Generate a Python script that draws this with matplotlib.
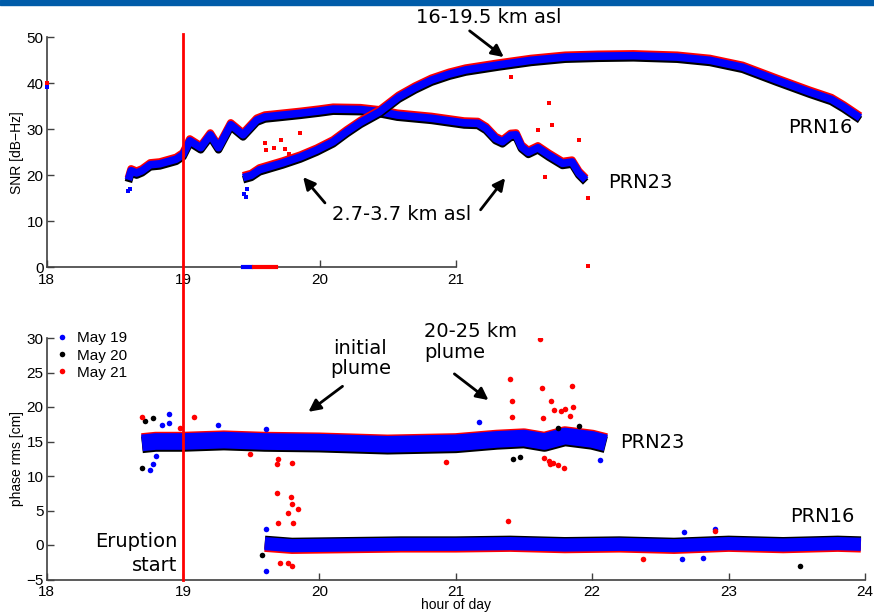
import numpy as np
import matplotlib
matplotlib.use("Agg")
import matplotlib.pyplot as plt
from matplotlib import patheffects as pe
from matplotlib.patches import Rectangle

# ---- SNR (upper panel), band centre ----
snr23_h = [18.60, 18.62, 18.66, 18.70, 18.76, 18.83, 18.89, 18.95, 19.00, 19.05,
           19.13, 19.20, 19.26, 19.35, 19.44, 19.54, 19.60, 19.70, 19.86, 20.00,
           20.10, 20.30, 20.45, 20.57, 20.82, 21.06, 21.16, 21.22, 21.29, 21.34,
           21.40, 21.44, 21.48, 21.53, 21.60, 21.68, 21.78, 21.85, 21.90, 21.95]
snr23 = [19.0, 21.0, 20.5, 21.0, 22.3, 22.5, 23.0, 23.5, 24.5, 27.5,
         26.0, 28.8, 26.0, 31.0, 28.8, 32.0, 32.7, 33.0, 33.5, 34.0,
         34.4, 34.3, 33.8, 33.1, 32.4, 31.4, 31.3, 30.2, 28.0, 27.3,
         28.7, 28.8, 26.2, 25.0, 26.0, 24.4, 22.6, 22.9, 20.5, 19.0]

snr16_h = [19.44, 19.50, 19.56, 19.65, 19.73, 19.86, 19.98, 20.10, 20.20, 20.30,
           20.44, 20.58, 20.70, 20.82, 20.95, 21.07, 21.31, 21.55, 21.80, 22.04,
           22.30, 22.62, 22.86, 23.10, 23.35, 23.59, 23.75, 23.84, 23.91, 23.96]
snr16 = [19.5, 20.0, 21.2, 22.0, 22.7, 24.0, 25.5, 27.3, 29.5, 31.5,
         33.8, 37.0, 39.0, 40.7, 42.0, 42.9, 44.0, 45.0, 45.7, 45.9,
         46.0, 45.7, 45.0, 43.5, 40.7, 38.1, 36.5, 34.9, 33.5, 32.5]

# scattered SNR samples off the band
snr_red_h = [18.00, 19.60, 19.61, 19.67, 19.72, 19.75, 19.78, 19.86, 21.40, 21.60,
             21.65, 21.68, 21.70, 21.90, 21.97, 21.97]
snr_red = [40.0, 27.0, 25.6, 26.0, 27.7, 25.8, 24.7, 29.2, 41.4, 29.9,
           19.7, 35.7, 31.0, 27.7, 15.1, 0.2]
snr_blue_h = [18.00, 18.60, 18.61, 19.45, 19.46, 19.47]
snr_blue = [39.3, 16.5, 17.0, 16.0, 15.3, 17.0]
snr_zero_blue = [19.44, 19.50]
snr_zero_red = [19.52, 19.68]

# ---- phase rms (lower panel) ----
ph23_h = [18.70, 18.80, 19.00, 19.30, 19.60, 20.00, 20.50, 21.00, 21.30, 21.50,
          21.65, 21.80, 22.00, 22.10]
ph23 = [14.8, 15.0, 15.0, 15.2, 15.0, 14.9, 14.6, 14.8, 15.3, 15.5,
        15.0, 15.8, 15.3, 14.8]
ph16_h = [19.60, 19.80, 20.20, 20.60, 21.00, 21.40, 21.80, 22.20, 22.60, 23.00,
          23.40, 23.80, 23.97]
ph16 = [0.2, -0.1, 0.0, 0.1, 0.1, 0.2, 0.0, 0.1, -0.1, 0.2, 0.0, 0.2, 0.1]

ph_red_h = [21.66, 21.62, 21.40, 21.41, 21.41, 21.63, 21.85, 21.70, 21.72, 21.86,
            21.77, 21.80, 21.84, 21.64, 21.65, 21.68, 21.71, 21.75, 21.69, 21.79,
            20.93, 19.69, 19.70, 19.80, 19.49, 18.70, 19.08, 18.98,
            19.69, 19.79, 19.80, 19.77, 19.81, 19.70, 19.84, 19.71, 19.80, 19.77,
            22.37, 21.38, 22.90]
ph_red = [30.6, 29.8, 24.0, 20.9, 18.6, 22.8, 23.1, 20.9, 19.5, 20.0,
          19.4, 19.7, 18.7, 18.4, 12.6, 12.2, 11.9, 11.6, 11.7, 11.2,
          12.1, 11.8, 12.5, 11.9, 13.2, 18.5, 18.6, 17.0,
          7.6, 6.9, 6.0, 4.6, 3.2, 3.2, 5.2, -2.6, -3.1, -2.6,
          -2.0, 3.5, 2.0]
ph_blk_h = [18.78, 18.70, 21.42, 21.47, 18.72, 19.58, 23.52, 21.90, 21.75]
ph_blk = [18.4, 11.2, 12.5, 12.7, 17.9, -1.4, -3.0, 17.2, 17.0]
ph_blu_h = [18.90, 18.90, 18.85, 19.26, 19.61, 18.76, 18.78, 18.80, 21.17, 22.06,
            19.61, 19.61, 22.90, 22.67, 22.66, 22.81]
ph_blu = [19.0, 17.7, 17.4, 17.4, 16.8, 10.9, 11.7, 12.9, 17.8, 12.3,
          -3.7, 2.3, 2.3, 1.9, -2.0, -1.9]

BLUE, RED = "#0000ff", "#ff0000"


def halo(up, down, up_col=RED, down_col="black"):
    return [pe.SimpleLineShadow(offset=(0, up), shadow_color=up_col, alpha=1),
            pe.SimpleLineShadow(offset=(0, -down), shadow_color=down_col, alpha=1),
            pe.Normal()]


fig = plt.figure(figsize=(8.74, 6.14), dpi=100)
fig.patches.append(Rectangle((0, 1 - 5 / 614), 1, 5 / 614, transform=fig.transFigure,
                             color="#005ca9", zorder=0))

tickfont = ["Liberation Sans", "DejaVu Sans"]
ann = dict(fontsize=14, family="DejaVu Sans")
arrow = dict(arrowstyle="-|>", color="black", lw=2, mutation_scale=18, shrinkA=0, shrinkB=0)


def style(ax):
    for s in ["top", "right"]:
        ax.spines[s].set_visible(False)
    for s in ["left", "bottom"]:
        ax.spines[s].set_color("#404040")
        ax.spines[s].set_linewidth(1.2)
    ax.tick_params(direction="in", length=5, width=1, color="#404040", pad=2, labelsize=11)
    ax.tick_params(axis="x", pad=4)
    for lab in ax.get_xticklabels() + ax.get_yticklabels():
        lab.set_family(tickfont)


# upper panel
ax1 = fig.add_axes([46.5 / 874, 1 - 267.3 / 614, 409.5 / 874, 230 / 614])
ax1.set_xlim(18, 21)
ax1.set_ylim(0, 50)
ax1.set_xticks([18, 19, 20, 21])
ax1.set_yticks([0, 10, 20, 30, 40, 50])
for h, v in [(snr23_h, snr23), (snr16_h, snr16)]:
    ax1.plot(h, v, color=BLUE, lw=5.5, solid_capstyle="butt", clip_on=False,
             path_effects=halo(1.3, 1.5), zorder=3)
ax1.plot(snr_red_h, snr_red, "s", color=RED, ms=2.2, mew=0, clip_on=False, zorder=4)
ax1.plot(snr_blue_h, snr_blue, "s", color=BLUE, ms=2.2, mew=0, clip_on=False, zorder=4)
ax1.plot(snr_zero_blue, [0, 0], color=BLUE, lw=3, clip_on=False, zorder=4)
ax1.plot(snr_zero_red, [0, 0], color=RED, lw=3, clip_on=False, zorder=4)
ax1.set_ylabel("SNR [dB\u2212Hz]", fontsize=10, family=tickfont, labelpad=2)
style(ax1)

ax1.text(21.24, 54.4, "16-19.5 km asl", ha="center", va="center", **ann)
ax1.annotate("", xy=(21.35, 45.7), xytext=(21.10, 51.4), arrowprops=arrow,
             annotation_clip=False)
ax1.text(20.60, 11.4, "2.7-3.7 km asl", ha="center", va="center", **ann)
ax1.annotate("", xy=(19.88, 19.6), xytext=(20.04, 14.0), arrowprops=arrow)
ax1.annotate("", xy=(21.36, 19.4), xytext=(21.18, 12.5), arrowprops=arrow,
             annotation_clip=False)
ax1.text(23.67, 30.3, "PRN16", ha="center", va="center", clip_on=False, **ann)
ax1.text(22.35, 18.5, "PRN23", ha="center", va="center", clip_on=False, **ann)

# lower panel
ax2 = fig.add_axes([46.5 / 874, 1 - 579.5 / 614, 818.5 / 874, 241.5 / 614])
ax2.set_xlim(18, 24)
ax2.set_ylim(-5, 30)
ax2.set_xticks(range(18, 25))
ax2.set_yticks(range(-5, 31, 5))
ax2.plot(ph23_h, ph23, color=BLUE, lw=12, solid_capstyle="butt",
         path_effects=halo(1.0, 1.4), zorder=3)
ax2.plot(ph16_h, ph16, color=BLUE, lw=9.5, solid_capstyle="butt",
         path_effects=halo(1.0, 1.2, up_col="black", down_col=RED), zorder=3)
ax2.plot(ph_blu_h, ph_blu, "o", color=BLUE, ms=4, mew=0, label="May 19", zorder=4)
ax2.plot(ph_blk_h, ph_blk, "o", color="black", ms=4, mew=0, label="May 20", zorder=4)
ax2.plot(ph_red_h, ph_red, "o", color=RED, ms=4, mew=0, label="May 21", zorder=4)
ax2.axvline(19, 0, (579.5 - 34) / 241.5, color=RED, lw=2, clip_on=False, zorder=5)
ax2.set_ylabel("phase rms [cm]", fontsize=10, family=tickfont, labelpad=2)
ax2.set_xlabel("hour of day", fontsize=10, family=tickfont, labelpad=-1)
style(ax2)
leg = ax2.legend(loc="upper left", bbox_to_anchor=(0.0, 1.065), frameon=False,
                 handlelength=0.8, handletextpad=0.6, labelspacing=0.2,
                 borderaxespad=0.2, prop={"family": tickfont, "size": 11})

ax2.text(20.30, 27.0, "initial\nplume", ha="center", va="center", linespacing=1.1, **ann)
ax2.annotate("", xy=(19.92, 19.3), xytext=(20.17, 23.0), arrowprops=arrow)
ax2.text(20.77, 29.4, "20-25 km\nplume", ha="left", va="center", linespacing=1.1, **ann)
ax2.annotate("", xy=(21.24, 21.0), xytext=(20.99, 24.8), arrowprops=arrow)
ax2.text(22.44, 14.9, "PRN23", ha="center", va="center", **ann)
ax2.text(23.69, 4.2, "PRN16", ha="center", va="center", **ann)
ax2.text(18.96, -1.2, "Eruption\nstart", ha="right", va="center", multialignment="right",
         linespacing=1.3, **ann)

fig.savefig("out.png", dpi=100)
